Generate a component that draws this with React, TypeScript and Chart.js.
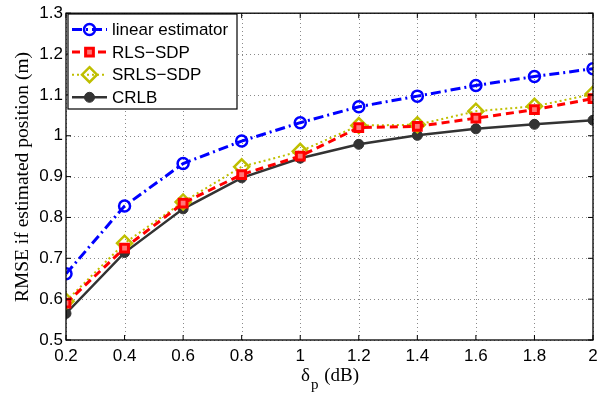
import React, { useEffect, useRef } from 'react';
import { Chart, registerables } from 'chart.js';
Chart.register(...registerables);

const xValues = [0.2, 0.4, 0.6, 0.8, 1.0, 1.2, 1.4, 1.6, 1.8, 2.0];
const linearEstimator = [0.662, 0.828, 0.932, 0.987, 1.032, 1.071, 1.097, 1.123, 1.145, 1.164];
const rlsSdp = [0.590, 0.725, 0.835, 0.905, 0.950, 1.020, 1.023, 1.043, 1.064, 1.091];
const srlsSdp = [0.595, 0.737, 0.838, 0.924, 0.962, 1.025, 1.027, 1.060, 1.072, 1.102];
const crlb = [0.565, 0.714, 0.821, 0.897, 0.945, 0.979, 1.001, 1.017, 1.028, 1.038];
const seriesLabels = ['linear estimator', 'RLS\u2212SDP', 'SRLS\u2212SDP', 'CRLB'];
const yTitle = 'RMSE if estimated position (m)';
const xTitleMain = '\u03b4';
const xTitleSub = 'p';
const xTitleRest = ' (dB)';

const SANS = '"Liberation Sans", Arial, sans-serif';
const SERIF = '"Liberation Serif", "Times New Roman", serif';

const toPts = (ys: number[]) => ys.map((y, i) => ({ x: xValues[i], y }));

const fmt = (v: number) => {
  const r = Math.round(v * 10) / 10;
  return Number.isInteger(r) ? String(r) : r.toFixed(1);
};

function drawMarker(ctx: CanvasRenderingContext2D, ds: any, x: number, y: number) {
  const r = ds.pointRadius;
  ctx.save();
  ctx.setLineDash([]);
  ctx.strokeStyle = ds.pointBorderColor;
  ctx.fillStyle = ds.pointBackgroundColor;
  ctx.lineWidth = ds.pointBorderWidth;
  ctx.beginPath();
  if (ds.pointStyle === 'circle') {
    ctx.arc(x, y, r, 0, Math.PI * 2);
  } else if (ds.pointStyle === 'rect') {
    const s = r * Math.SQRT1_2;
    ctx.rect(x - s, y - s, 2 * s, 2 * s);
  } else if (ds.pointStyle === 'rectRot') {
    ctx.moveTo(x, y - r); ctx.lineTo(x + r, y); ctx.lineTo(x, y + r); ctx.lineTo(x - r, y); ctx.closePath();
  }
  ctx.fill();
  ctx.stroke();
  ctx.restore();
}

const gridPlugin = {
  id: 'gridPlugin',
  beforeDatasetsDraw(chart: any) {
    const { ctx, chartArea: a, scales } = chart;
    ctx.save();
    ctx.strokeStyle = '#8a8a8a';
    ctx.lineWidth = 1;
    ctx.setLineDash([1, 3]);
    ctx.beginPath();
    scales.x.ticks.forEach((t: any) => {
      const px = Math.round(scales.x.getPixelForValue(t.value)) + 0.5;
      ctx.moveTo(px, a.bottom); ctx.lineTo(px, a.top);
    });
    scales.y.ticks.forEach((t: any) => {
      const py = Math.round(scales.y.getPixelForValue(t.value)) + 0.5;
      ctx.moveTo(a.left, py); ctx.lineTo(a.right, py);
    });
    ctx.stroke();
    ctx.restore();
  },
};

const framePlugin = {
  id: 'framePlugin',
  afterDraw(chart: any) {
    const { ctx, chartArea: a, scales } = chart;
    ctx.save();
    ctx.strokeStyle = '#000';
    ctx.lineWidth = 1.3;
    ctx.setLineDash([]);
    ctx.strokeRect(a.left, a.top, a.right - a.left, a.bottom - a.top);
    const tl = 5;
    ctx.lineWidth = 1;
    ctx.beginPath();
    scales.x.ticks.forEach((t: any) => {
      const px = scales.x.getPixelForValue(t.value);
      ctx.moveTo(px, a.bottom); ctx.lineTo(px, a.bottom - tl);
      ctx.moveTo(px, a.top); ctx.lineTo(px, a.top + tl);
    });
    scales.y.ticks.forEach((t: any) => {
      const py = scales.y.getPixelForValue(t.value);
      ctx.moveTo(a.left, py); ctx.lineTo(a.left + tl, py);
      ctx.moveTo(a.right, py); ctx.lineTo(a.right - tl, py);
    });
    ctx.stroke();

    // legend
    const lx = 68, ly = 14, lw = 169, lh = 95;
    ctx.fillStyle = '#fff';
    ctx.fillRect(lx, ly, lw, lh);
    ctx.strokeStyle = '#000';
    ctx.lineWidth = 1.2;
    ctx.strokeRect(lx, ly, lw, lh);
    chart.data.datasets.forEach((ds: any, i: number) => {
      const cy = 29.5 + i * 22.6;
      ctx.save();
      ctx.strokeStyle = ds.borderColor;
      ctx.lineWidth = ds.borderWidth;
      ctx.setLineDash(ds.borderDash || []);
      ctx.beginPath();
      ctx.moveTo(72, cy); ctx.lineTo(107, cy);
      ctx.stroke();
      ctx.restore();
      drawMarker(ctx, ds, 89.5, cy);
      ctx.fillStyle = '#000';
      ctx.font = `17px ${SANS}`;
      ctx.textAlign = 'left';
      ctx.textBaseline = 'middle';
      ctx.fillText(ds.label, 112, cy + 1);
    });

    // y title
    ctx.save();
    ctx.translate(23, 177);
    ctx.rotate(-Math.PI / 2);
    ctx.fillStyle = '#000';
    ctx.font = `19.5px ${SERIF}`;
    ctx.textAlign = 'center';
    ctx.textBaseline = 'middle';
    ctx.fillText(yTitle, 0, 0);
    ctx.restore();

    // x title
    ctx.fillStyle = '#000';
    ctx.textAlign = 'left';
    ctx.textBaseline = 'alphabetic';
    ctx.font = `19px ${SERIF}`;
    const w1 = ctx.measureText(xTitleMain).width;
    const w3 = ctx.measureText(xTitleRest).width;
    ctx.font = `15px ${SERIF}`;
    const w2 = ctx.measureText(xTitleSub).width;
    const total = w1 + w2 + 2 + w3;
    const x0 = 330 - total / 2;
    const base = 381;
    ctx.font = `19px ${SERIF}`;
    ctx.fillText(xTitleMain, x0, base);
    ctx.font = `15px ${SERIF}`;
    ctx.fillText(xTitleSub, x0 + w1 + 1, base + 8);
    ctx.font = `19px ${SERIF}`;
    ctx.fillText(xTitleRest, x0 + w1 + w2 + 2, base);
    ctx.restore();
  },
};

export default function App() {
  const ref = useRef<HTMLCanvasElement>(null);
  useEffect(() => {
    if (!ref.current) return;
    const olive = 'rgb(191,191,0)';
    const chart = new Chart(ref.current, {
      type: 'line',
      data: {
        datasets: [
          {
            label: seriesLabels[0], data: toPts(linearEstimator),
            borderColor: '#0000ff', borderWidth: 3, borderDash: [10, 4, 2, 4],
            pointStyle: 'circle', pointRadius: 5.5, pointBorderWidth: 2.5,
            pointBorderColor: '#0000ff', pointBackgroundColor: 'rgba(255,255,255,0)',
          },
          {
            label: seriesLabels[1], data: toPts(rlsSdp),
            borderColor: '#ff0000', borderWidth: 3, borderDash: [8, 5],
            pointStyle: 'rect', pointRadius: 5.5, pointBorderWidth: 3,
            pointBorderColor: '#ff0000', pointBackgroundColor: 'rgba(255,120,120,1)',
          },
          {
            label: seriesLabels[2], data: toPts(srlsSdp),
            borderColor: olive, borderWidth: 2, borderDash: [2, 3],
            pointStyle: 'rectRot', pointRadius: 7.5, pointBorderWidth: 2.5,
            pointBorderColor: olive, pointBackgroundColor: 'rgba(255,255,255,0)',
          },
          {
            label: seriesLabels[3], data: toPts(crlb),
            borderColor: '#333333', borderWidth: 2.5, borderDash: [],
            pointStyle: 'circle', pointRadius: 5, pointBorderWidth: 1,
            pointBorderColor: '#333333', pointBackgroundColor: '#333333',
          },
        ] as any,
      },
      options: {
        animation: false,
        responsive: false,
        devicePixelRatio: 1,
        layout: { padding: { top: 13, right: 19, left: 0, bottom: 0 } },
        plugins: { legend: { display: false }, tooltip: { enabled: false } },
        elements: { line: { tension: 0 } },
        scales: {
          x: {
            type: 'linear', min: 0.2, max: 2,
            afterFit: (s: any) => { s.height = 54; },
            ticks: {
              stepSize: 0.2, padding: 6, color: '#000',
              font: { family: SANS, size: 17 },
              callback: (v: any) => fmt(Number(v)),
              maxRotation: 0, autoSkip: false,
            },
            grid: { display: false, drawTicks: false },
            border: { display: false },
          },
          y: {
            type: 'linear', min: 0.5, max: 1.3,
            afterFit: (s: any) => { s.width = 66; },
            ticks: {
              stepSize: 0.1, padding: 3, color: '#000',
              font: { family: SANS, size: 17 },
              callback: (v: any) => fmt(Number(v)),
            },
            grid: { display: false, drawTicks: false },
            border: { display: false },
          },
        },
      } as any,
      plugins: [gridPlugin, framePlugin],
    });
    return () => chart.destroy();
  }, []);
  return (
    <div style={{ position: 'fixed', left: 0, top: 0, width: 612, height: 394, background: '#fff' }}>
      <canvas ref={ref} width={612} height={394} />
    </div>
  );
}
